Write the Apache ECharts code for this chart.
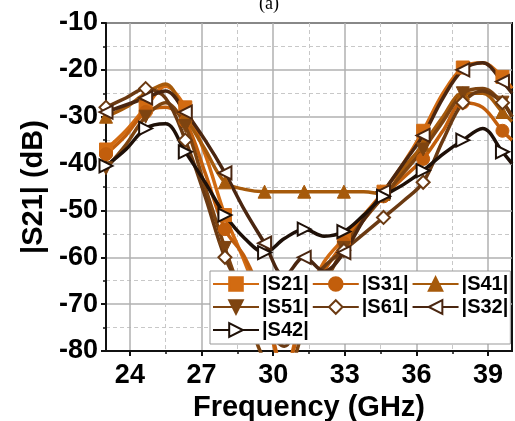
<!DOCTYPE html>
<html>
<head>
<meta charset="utf-8">
<script src="https://cdn.jsdelivr.net/npm/echarts@6/dist/echarts.min.js"></script>
<style>
  html, body { margin: 0; padding: 0; background: #fff; }
  #chart { width: 515px; height: 421px; }
</style>
</head>
<body>
<div id="chart"></div>
<script>
// frequency points (GHz), markers on every other point
const freq = [23.0, 23.83, 24.66, 25.49, 26.32, 27.15, 27.98, 28.81, 29.64, 30.47, 31.3,
  32.13, 32.96, 33.79, 34.62, 35.45, 36.28, 37.11, 37.94, 38.77, 39.6, 40.0];

const s21 = [-37, -33, -28, -23.5, -28, -38, -51, -61, -72, -84, -70,
  -61, -56, -51, -46, -40, -33, -25, -19.5, -18.5, -21.5, -24];
const s31 = [-38, -34, -29, -28, -31, -42, -54, -60, -70, -84, -72,
  -63, -57, -52, -47, -43, -39, -33, -27, -28, -33, -35];
const s41 = [-30, -28, -25, -23, -30, -37, -44, -45.5, -46, -46, -46,
  -46, -46, -46, -46.5, -41, -36, -30, -25, -25, -29, -31];
const s51 = [-41, -36, -30, -27, -32, -45, -58, -70, -82, -85, -75,
  -66, -58, -52, -47, -42, -37, -31, -25, -24, -27, -30];
const s61 = [-28, -26, -24, -26, -35, -47, -60, -68, -75, -79, -67,
  -62, -58.5, -55, -51.5, -48, -44, -35, -27, -24.5, -27, -30];
const s32 = [-29, -27.5, -26, -24.5, -29, -35, -42, -50, -57, -64, -60,
  -63, -59, -52, -46, -40, -34, -26, -20, -18.5, -22.5, -25];
const s42 = [-40.5, -37, -32.5, -31.5, -37.5, -44, -51, -56, -59, -56, -54,
  -55.5, -54.5, -51, -47, -44.5, -41.5, -38, -35, -32.5, -37.5, -40];

const xLabels = [24, 27, 30, 33, 36, 39];
const xMinor = [25.5, 28.5, 31.5, 34.5, 37.5];

const seriesDefs = [
  { name: '|S21|', data: s21, color: '#D26B12', symbol: 'rect', rotate: 0, hollow: false },
  { name: '|S31|', data: s31, color: '#C25E0C', symbol: 'circle', rotate: 0, hollow: false },
  { name: '|S41|', data: s41, color: '#A65A0B', symbol: 'triangle', rotate: 0, hollow: false },
  { name: '|S51|', data: s51, color: '#7E4410', symbol: 'triangle', rotate: 180, hollow: false },
  { name: '|S61|', data: s61, color: '#6B3A12', symbol: 'diamond', rotate: 0, hollow: true },
  { name: '|S32|', data: s32, color: '#4A2610', symbol: 'triangle', rotate: 90, hollow: true },
  { name: '|S42|', data: s42, color: '#1E1008', symbol: 'triangle', rotate: -90, hollow: true }
];

const myChart = echarts.init(document.getElementById('chart'));

const boldFont = { fontFamily: 'Liberation Sans, Arial', fontWeight: 'bold', color: '#000' };

const option = {
  animation: false,
  title: {
    text: '(a)',
    left: 254,
    top: -10,
    textStyle: { fontFamily: 'Liberation Serif', fontWeight: 'normal', fontSize: 18, color: '#000' }
  },
  grid: {
    left: 106, right: 3, top: 23, bottom: 70,
    outerBoundsMode: 'none', containLabel: false,
    show: true, borderColor: '#111', borderWidth: 2, backgroundColor: 'transparent'
  },
  legend: {
    left: 210, top: 271, width: 302,
    itemWidth: 46, itemHeight: 17, itemGap: 3,
    backgroundColor: '#fff', borderColor: '#999', borderWidth: 1,
    padding: [3, 2, 4, 2],
    textStyle: Object.assign({ fontSize: 20, padding: [0, 0, 0, -2] }, boldFont),
    data: seriesDefs.map(s => s.name)
  },
  xAxis: [
    {
      type: 'value', min: 23, max: 40,
      name: 'Frequency (GHz)', nameLocation: 'middle', nameGap: 33,
      nameTextStyle: Object.assign({ fontSize: 29 }, boldFont),
      axisLine: { show: true, lineStyle: { color: '#111', width: 2 } },
      axisTick: { show: true, customValues: xLabels, length: 5, lineStyle: { color: '#111', width: 2 } },
      axisLabel: Object.assign({ customValues: xLabels, fontSize: 27, margin: 11 }, boldFont),
      splitLine: { show: true, lineStyle: { color: '#b0b0b0', width: 1.5 } }
    },
    {
      type: 'value', min: 23, max: 40, position: 'bottom',
      axisLine: { show: false },
      axisTick: { show: true, customValues: xMinor, length: 3, lineStyle: { color: '#111', width: 1.5 } },
      axisLabel: { show: false },
      splitLine: { show: true, lineStyle: { color: '#c8c8c8', width: 1, type: [4, 3] } }
    }
  ],
  yAxis: {
    type: 'value', min: -80, max: -10, interval: 10,
    name: '|S21| (dB)', nameLocation: 'middle', nameGap: 55,
    nameTextStyle: Object.assign({ fontSize: 29 }, boldFont),
    axisLine: { show: true, lineStyle: { color: '#111', width: 2 } },
    axisTick: { show: true, length: 5, lineStyle: { color: '#111', width: 2 } },
    minorTick: { show: true, splitNumber: 2, length: 3, lineStyle: { color: '#111', width: 1.5 } },
    axisLabel: Object.assign({ fontSize: 27, margin: 8 }, boldFont),
    splitLine: { show: true, lineStyle: { color: '#b0b0b0', width: 1.5 } },
    minorSplitLine: { show: true, lineStyle: { color: '#c8c8c8', width: 1, type: [4, 3] } }
  },
  series: seriesDefs.map(s => ({
    name: s.name,
    type: 'line',
    xAxisIndex: 0,
    smooth: 0.35,
    data: freq.map((f, i) => [f, s.data[i]]),
    symbol: s.symbol,
    symbolRotate: s.rotate,
    symbolSize: (v, p) => (p && p.dataIndex % 2 === 0 && p.dataIndex < 21) ? 13 : 0,
    showAllSymbol: true,
    lineStyle: { color: s.color, width: 3.5 },
    itemStyle: s.hollow
      ? { color: '#fff', borderColor: s.color, borderWidth: 2 }
      : { color: s.color, borderColor: s.color, borderWidth: 1 },
    clip: true
  }))
};

myChart.setOption(option);
</script>
</body>
</html>
